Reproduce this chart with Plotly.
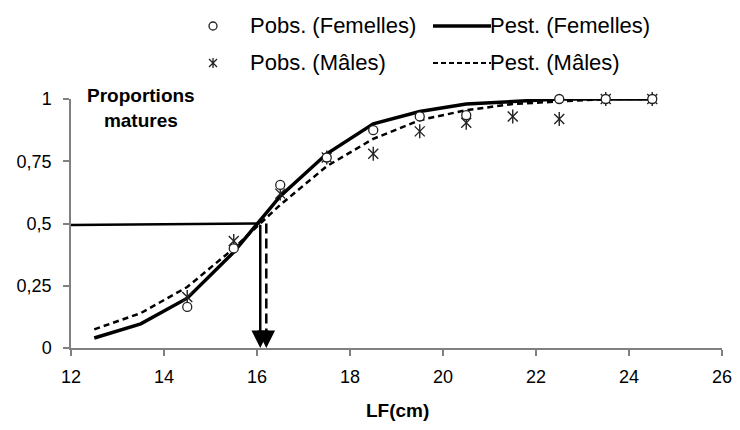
import plotly.graph_objects as go

# ---- data ----
lf_est = [12.5, 13.5, 14.5, 15.5, 16.5, 17.5, 18.5, 19.5, 20.5, 21.5, 22.5, 23.5, 24.5]
pest_fem = [0.04, 0.097, 0.20, 0.385, 0.61, 0.78, 0.90, 0.95, 0.98, 0.99, 1.0, 1.0, 1.0]
pest_mal = [0.075, 0.14, 0.245, 0.40, 0.575, 0.73, 0.84, 0.915, 0.955, 0.98, 0.99, 1.0, 1.0]

lf_obs_fem = [14.5, 15.5, 16.5, 17.5, 18.5, 19.5, 20.5, 22.5, 23.5, 24.5]
pobs_fem = [0.165, 0.40, 0.655, 0.765, 0.875, 0.93, 0.935, 1.0, 1.0, 1.0]
lf_obs_mal = [14.5, 15.5, 16.5, 17.5, 18.5, 19.5, 20.5, 21.5, 22.5, 23.5, 24.5]
pobs_mal = [0.205, 0.43, 0.62, 0.765, 0.78, 0.87, 0.905, 0.93, 0.92, 1.0, 1.0]

l50_fem = 16.07
l50_mal = 16.2
half_line_x = [12.0, l50_fem]
half_line_y = [0.494, 0.5]

x_ticks = [12, 14, 16, 18, 20, 22, 24, 26]
y_ticks = [0, 0.25, 0.5, 0.75, 1]
y_ticktext = ["0", "0,25", "0,5", "0,75", "1"]

FONT = "Liberation Sans, Arial, sans-serif"
OFF = 8                          # page body margin
W, H = 740 - OFF, 430 - 2 * OFF
# plot area in window pixels, converted to figure pixels
L, R, T, B = 71 - OFF, 722 - OFF, 99 - OFF, 348 - OFF


def px(xp):
    return (xp - OFF - L) / (R - L)


def py(yp):
    return (B - (yp - OFF)) / (B - T)


fig = go.Figure()

# horizontal 50% line
fig.add_trace(go.Scatter(x=half_line_x, y=half_line_y, mode="lines",
                         line=dict(color="black", width=2.5), showlegend=False, hoverinfo="skip"))

# estimated curves
fig.add_trace(go.Scatter(x=lf_est, y=pest_mal, mode="lines",
                         line=dict(color="black", width=2.5, dash="6px,4px"),
                         showlegend=False))
fig.add_trace(go.Scatter(x=lf_est, y=pest_fem, mode="lines",
                         line=dict(color="black", width=3.5), showlegend=False))

# observed males (Ж-like marker = x + vertical line)
for sym in ["x-thin-open", "line-ns-open"]:
    fig.add_trace(go.Scatter(x=lf_obs_mal, y=pobs_mal, mode="markers", cliponaxis=False,
                             marker=dict(symbol=sym, size=10, color="#222",
                                         line=dict(color="#222", width=1.4)),
                             showlegend=False))
# observed females
fig.add_trace(go.Scatter(x=lf_obs_fem, y=pobs_fem, mode="markers", cliponaxis=False,
                         marker=dict(symbol="circle", size=9, color="white",
                                     line=dict(color="#222", width=1.3)),
                         showlegend=False))

shapes = []
# dashed vertical line for males
shapes.append(dict(type="line", x0=l50_mal, x1=l50_mal, y0=0.5, y1=0.05, xref="x", yref="y",
                   line=dict(color="black", width=2.5, dash="10px,5px")))

annotations = []
# arrows
annotations.append(dict(x=l50_fem, y=0, ax=l50_fem, ay=0.5, xref="x", yref="y",
                        axref="x", ayref="y", showarrow=True, text="",
                        arrowhead=2, arrowsize=1.4, arrowwidth=2.5, arrowcolor="black",
                        standoff=0))
annotations.append(dict(x=l50_mal, y=0, ax=l50_mal, ay=0.07, xref="x", yref="y",
                        axref="x", ayref="y", showarrow=True, text="",
                        arrowhead=2, arrowsize=1.4, arrowwidth=2.5, arrowcolor="black",
                        standoff=0))

# legend (manual, two rows)
row1, row2 = 26, 63
leg_font = dict(family=FONT, size=22, color="black")
annotations += [
    dict(x=px(248), y=py(row1), xref="paper", yref="paper", text="Pobs. (Femelles)",
         showarrow=False, xanchor="left", yanchor="middle", font=leg_font),
    dict(x=px(248), y=py(row2), xref="paper", yref="paper", text="Pobs. (Mâles)",
         showarrow=False, xanchor="left", yanchor="middle", font=leg_font),
    dict(x=px(488), y=py(row1), xref="paper", yref="paper", text="Pest. (Femelles)",
         showarrow=False, xanchor="left", yanchor="middle", font=leg_font),
    dict(x=px(488), y=py(row2), xref="paper", yref="paper", text="Pest. (Mâles)",
         showarrow=False, xanchor="left", yanchor="middle", font=leg_font),
]
shapes.append(dict(type="line", xref="paper", yref="paper", x0=px(433), x1=px(491),
                   y0=py(row1), y1=py(row1), line=dict(color="black", width=3.5)))
shapes.append(dict(type="line", xref="paper", yref="paper", x0=px(433), x1=px(491),
                   y0=py(row2), y1=py(row2), line=dict(color="black", width=2, dash="5px,3px")))
# legend markers (pixel-sized shapes)
shapes.append(dict(type="circle", xref="paper", yref="paper", xsizemode="pixel",
                   ysizemode="pixel", xanchor=px(213), yanchor=py(row1),
                   x0=-4, x1=4, y0=-4, y1=4, fillcolor="white",
                   line=dict(color="#222", width=1.3)))
shapes.append(dict(type="path", xref="paper", yref="paper", xsizemode="pixel",
                   ysizemode="pixel", xanchor=px(213), yanchor=py(row2),
                   path="M-4,-4L4,4M-4,4L4,-4M0,-5L0,5",
                   line=dict(color="#222", width=1.3)))

# axis-area texts
annotations.append(dict(x=px(141), y=py(108), xref="paper", yref="paper",
                        text="<b>Proportions<br>matures</b>", showarrow=False,
                        xanchor="center", yanchor="middle",
                        font=dict(family=FONT, size=19, color="black")))
annotations.append(dict(x=px(397), y=py(410), xref="paper", yref="paper",
                        text="<b>LF(cm)</b>", showarrow=False,
                        xanchor="center", yanchor="middle",
                        font=dict(family=FONT, size=19, color="black")))

fig.update_layout(
    width=W, height=H,
    margin=dict(l=L, r=W - R, t=T, b=H - B, pad=0, autoexpand=False),
    paper_bgcolor="white", plot_bgcolor="white",
    showlegend=False,
    annotations=annotations,
    shapes=shapes,
    xaxis=dict(range=[12, 26], tickvals=x_ticks, ticks="outside", ticklen=6,
               tickcolor="#808080", tickwidth=1.5, showline=True, linecolor="#808080",
               linewidth=1.5, showgrid=False, zeroline=False, ticklabelstandoff=6,
               automargin=False,
               tickfont=dict(family=FONT, size=18, color="black")),
    yaxis=dict(range=[0, 1], tickvals=y_ticks, ticktext=y_ticktext, ticks="outside",
               ticklen=6, tickcolor="#808080", tickwidth=1.5, showline=True,
               linecolor="#808080", linewidth=1.5, showgrid=False, zeroline=False,
               ticklabelstandoff=8, automargin=False,
               tickfont=dict(family=FONT, size=18, color="black")),
)

fig.write_html("out.html")
